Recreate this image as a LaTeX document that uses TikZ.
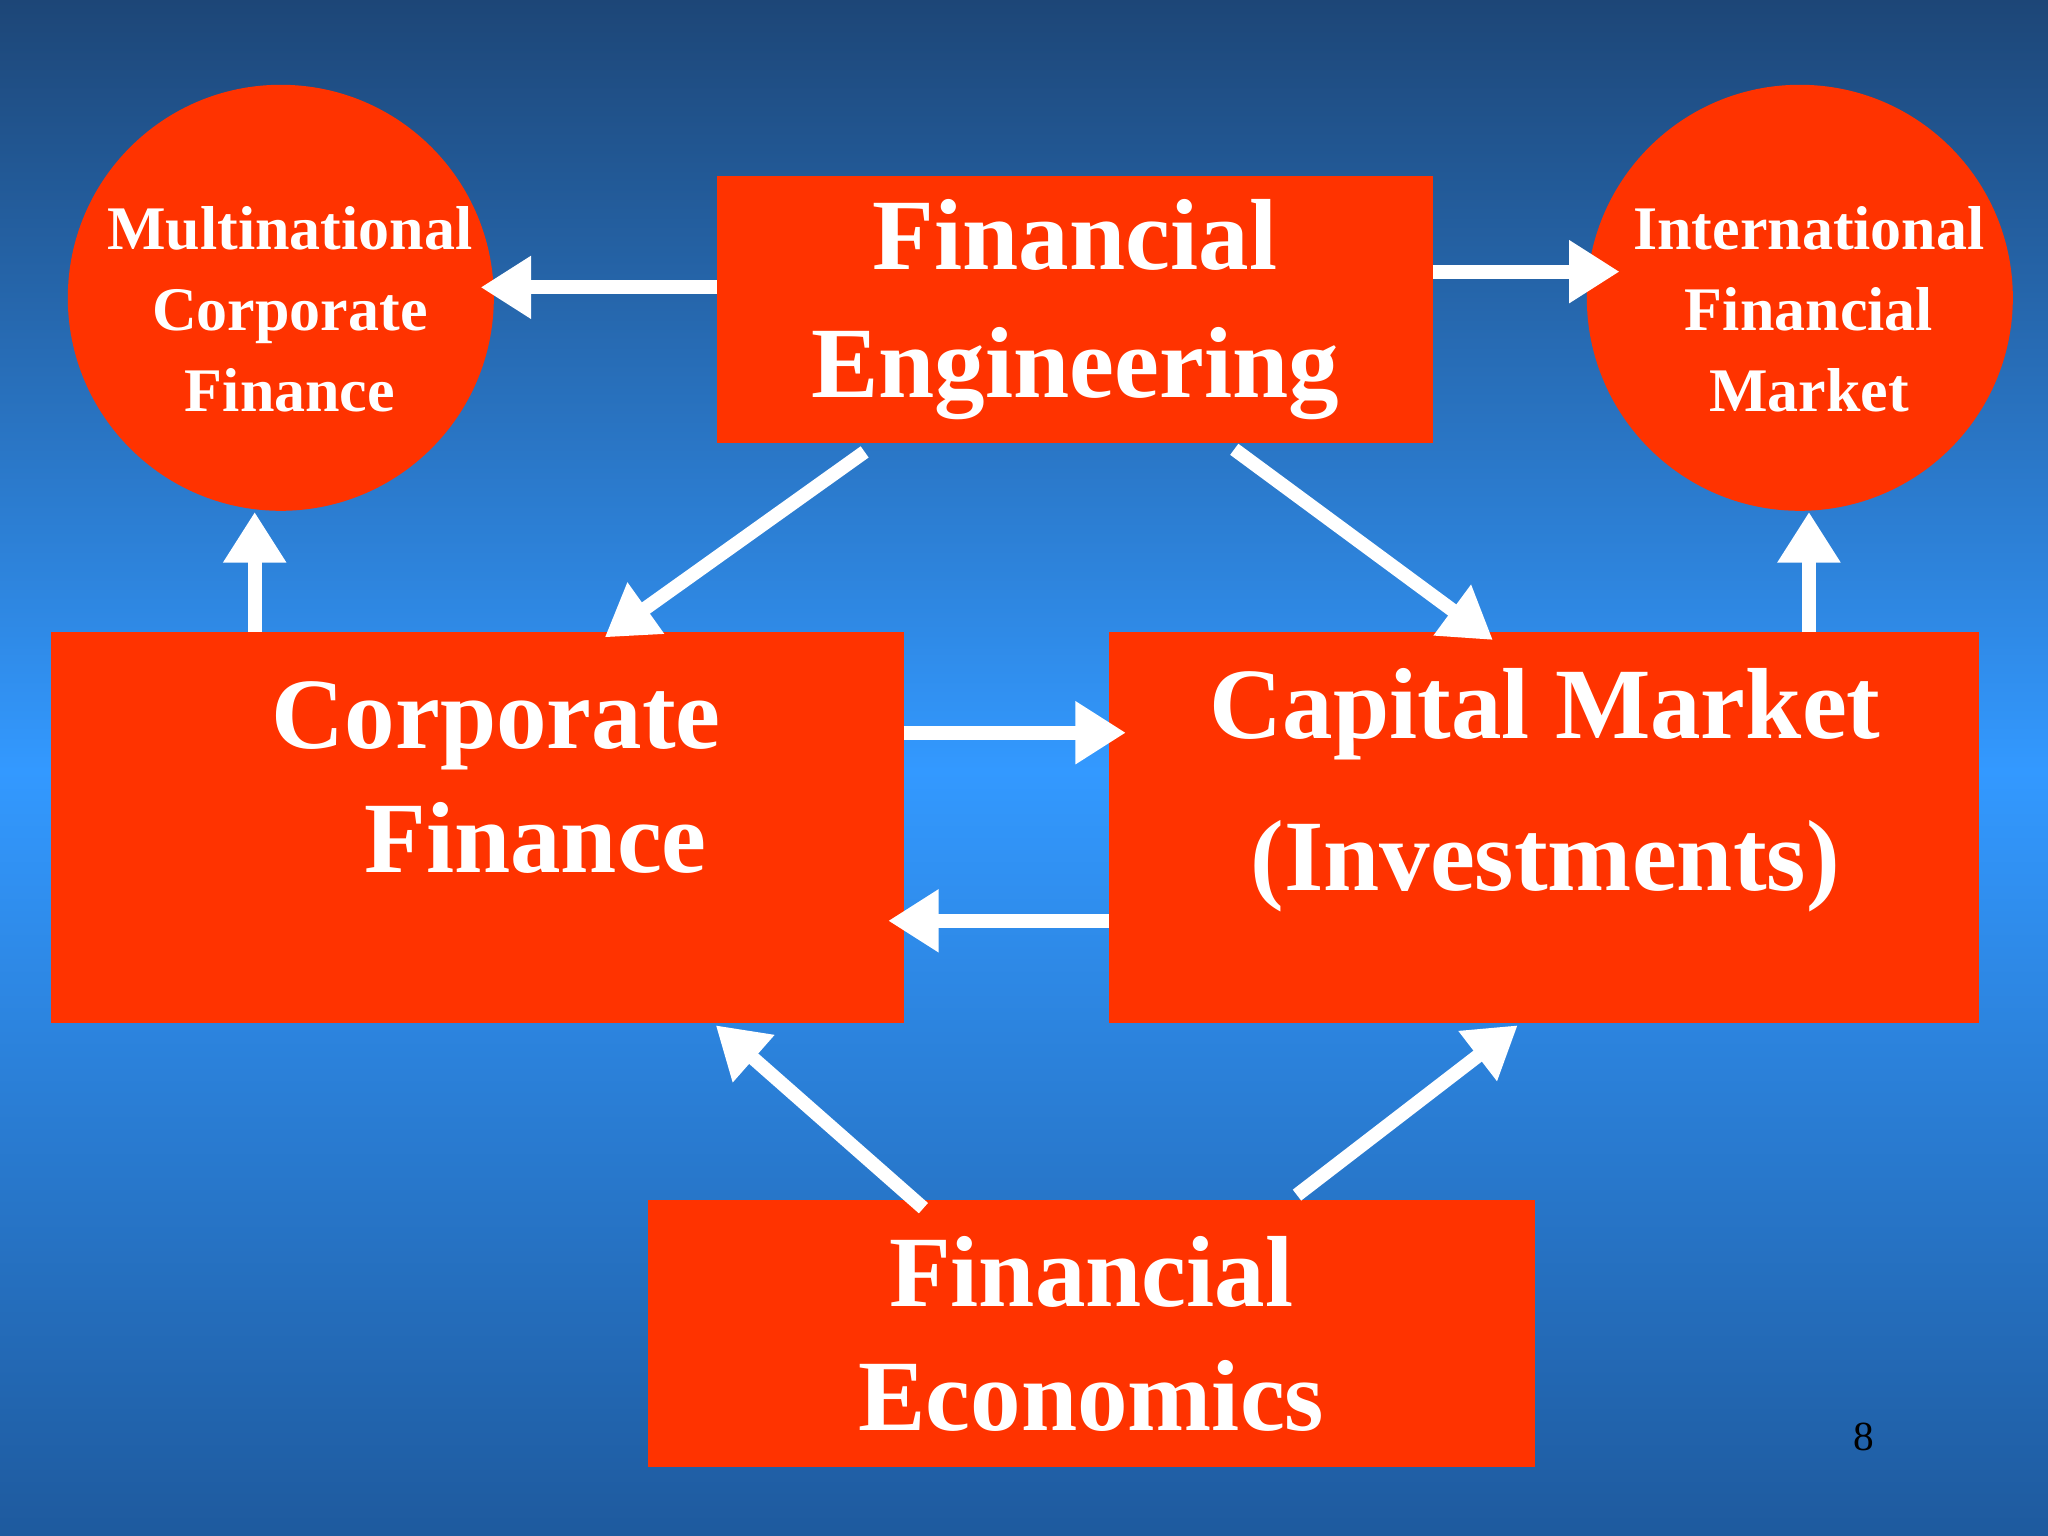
\documentclass[tikz,border=0pt]{standalone}
\usepackage{fontspec}
\setmainfont{Liberation Serif}
\usetikzlibrary{arrows.meta}
\definecolor{boxred}{HTML}{FF3300}
\definecolor{bgtop}{HTML}{1D4677}
\definecolor{bgmid}{HTML}{3399FF}
\definecolor{bgbot}{HTML}{1E5A9E}
\tikzset{
  box/.style={fill=boxred,draw=none,rectangle,inner sep=0pt},
  lbl/.style={text=white,font=\bfseries,align=center,inner sep=0pt},
  arr/.style={draw=white,line width=3pt,-{Triangle[length=11pt,width=13pt]}}
}
\begin{document}
\begin{tikzpicture}[x=0.01cm,y=-0.01cm]
\useasboundingbox (0,0) rectangle (1568,1176);
\shade[top color=bgtop,bottom color=bgmid] (0,0) rectangle (1568,590);
\shade[top color=bgmid,bottom color=bgbot] (0,590) rectangle (1568,1176);
% circles
\fill[boxred] (215,228) circle[radius=1.63cm];
\fill[boxred] (1378,228) circle[radius=1.63cm];
\node[lbl,font=\bfseries\fontsize{13.5}{17.6}\selectfont] (mcf) at (222,237) {Multinational\\Corporate\\Finance};
\node[lbl,font=\bfseries\fontsize{13.5}{17.6}\selectfont] (ifm) at (1385,237) {International\\Financial\\Market};
% boxes
\node[box,minimum width=5.48cm,minimum height=2.04cm] (fe) at (823,237) {};
\node[box,minimum width=6.53cm,minimum height=2.99cm] (cf) at (365.5,633.5) {};
\node[box,minimum width=6.66cm,minimum height=2.99cm] (cm) at (1182,633.5) {};
\node[box,minimum width=6.79cm,minimum height=2.04cm] (fec) at (835.5,1021) {};
\node[lbl,font=\bfseries\fontsize{22}{28}\selectfont] at (fe) {Financial\\Engineering};
\node[lbl,font=\bfseries\fontsize{22}{27}\selectfont] at (380,595) {Corporate\\\hspace*{0.6cm}Finance};
\node[lbl,font=\bfseries\fontsize{22}{33}\selectfont] at (1183,605) {Capital Market\\(Investments)};
\node[lbl,font=\bfseries\fontsize{22}{27}\selectfont] at (fec) {Financial\\Economics};
\node[text=black,font=\fontsize{9}{9}\selectfont] (pg) at (1427,1100) {8};
% arrows
\coordinate (a1) at (549,220); \coordinate (b1) at (368,220);
\coordinate (a2) at (1097,208); \coordinate (b2) at (1240,208);
\coordinate (a3) at (662,346); \coordinate (b3) at (463,488);
\coordinate (a4) at (945,344); \coordinate (b4) at (1143,490);
\coordinate (a5) at (195,484); \coordinate (b5) at (195,392);
\coordinate (a6) at (1385,484); \coordinate (b6) at (1385,392);
\coordinate (a7) at (692,561); \coordinate (b7) at (862,561);
\coordinate (a8) at (849,705); \coordinate (b8) at (680,705);
\coordinate (a9) at (707,925); \coordinate (b9) at (548,785);
\coordinate (a10) at (993,915); \coordinate (b10) at (1162,785);
\foreach \i in {1,...,10} \draw[arr] (a\i) -- (b\i);
\end{tikzpicture}
\end{document}
